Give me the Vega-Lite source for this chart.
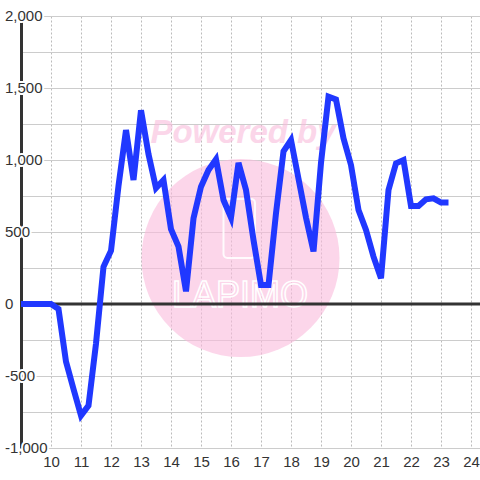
{
  "$schema": "https://vega.github.io/schema/vega-lite/v6.json",
  "width": 459,
  "height": 432,
  "autosize": "none",
  "padding": {"left": 21, "top": 16, "right": 0, "bottom": 32},
  "background": "white",
  "config": {"view": {"stroke": null}, "font": "Liberation Sans"},
  "resolve": {"axis": {"x": "independent", "y": "independent"}},
  "datasets": {
    "series": [
      {"t": 9.0, "v": 0}, {"t": 9.25, "v": 0}, {"t": 9.5, "v": 0}, {"t": 9.75, "v": 0},
      {"t": 10.0, "v": 0}, {"t": 10.25, "v": -35}, {"t": 10.5, "v": -400}, {"t": 10.75, "v": -590},
      {"t": 11.0, "v": -775}, {"t": 11.25, "v": -705}, {"t": 11.5, "v": -275}, {"t": 11.75, "v": 259},
      {"t": 12.0, "v": 370}, {"t": 12.25, "v": 820}, {"t": 12.5, "v": 1208}, {"t": 12.75, "v": 861},
      {"t": 13.0, "v": 1345}, {"t": 13.25, "v": 1040}, {"t": 13.5, "v": 805}, {"t": 13.75, "v": 861},
      {"t": 14.0, "v": 520}, {"t": 14.25, "v": 398}, {"t": 14.5, "v": 88}, {"t": 14.75, "v": 595},
      {"t": 15.0, "v": 815}, {"t": 15.25, "v": 930}, {"t": 15.5, "v": 1005}, {"t": 15.75, "v": 722},
      {"t": 16.0, "v": 600}, {"t": 16.25, "v": 980}, {"t": 16.5, "v": 792}, {"t": 16.75, "v": 444},
      {"t": 17.0, "v": 132}, {"t": 17.25, "v": 132}, {"t": 17.5, "v": 630}, {"t": 17.75, "v": 1060},
      {"t": 18.0, "v": 1139}, {"t": 18.25, "v": 870}, {"t": 18.5, "v": 600}, {"t": 18.75, "v": 365},
      {"t": 19.0, "v": 980}, {"t": 19.25, "v": 1440}, {"t": 19.5, "v": 1420}, {"t": 19.75, "v": 1150},
      {"t": 20.0, "v": 965}, {"t": 20.25, "v": 653}, {"t": 20.5, "v": 514}, {"t": 20.75, "v": 329},
      {"t": 21.0, "v": 178}, {"t": 21.25, "v": 792}, {"t": 21.5, "v": 977}, {"t": 21.75, "v": 1000},
      {"t": 22.0, "v": 680}, {"t": 22.25, "v": 680}, {"t": 22.5, "v": 727}, {"t": 22.75, "v": 734},
      {"t": 23.0, "v": 704}, {"t": 23.25, "v": 704}
    ],
    "ylabels": [
      {"v": 2000, "label": "2,000"}, {"v": 1500, "label": "1,500"}, {"v": 1000, "label": "1,000"},
      {"v": 500, "label": "500"}, {"v": 0, "label": "0"}, {"v": -500, "label": "-500"},
      {"v": -1000, "label": "-1,000"}
    ]
  },
  "layer": [
    {
      "data": {"name": "series"},
      "mark": {"type": "line", "opacity": 0},
      "encoding": {
        "x": {
          "field": "t", "type": "quantitative", "title": null,
          "scale": {"domain": [9, 24.3], "nice": false, "zero": false},
          "axis": {
            "values": [10, 11, 12, 13, 14, 15, 16, 17, 18, 19, 20, 21, 22, 23, 24],
            "title": null, "orient": "bottom", "domain": false, "ticks": false, "tickSize": 0,
            "labelPadding": 6, "labelFontSize": 15, "labelColor": "#333", "labelFont": "Liberation Sans",
            "labelFlush": false, "labelOverlap": false,
            "grid": true, "gridDash": [2, 2], "gridColor": "#bbbbbb", "gridWidth": 1
          }
        },
        "y": {
          "field": "v", "type": "quantitative", "title": null,
          "scale": {"domain": [-1000, 2000], "nice": false, "zero": false},
          "axis": {
            "values": [-1000, -750, -500, -250, 0, 250, 500, 750, 1000, 1250, 1500, 1750, 2000],
            "title": null, "orient": "left", "labels": false, "ticks": false, "tickSize": 0,
            "domain": true, "domainColor": "#333333", "domainWidth": 3,
            "grid": true, "gridColor": "#cccccc", "gridWidth": 1
          }
        }
      }
    },
    {
      "data": {"values": [{}]},
      "mark": {"type": "circle", "size": 39204, "color": "#fabbdc", "opacity": 0.6},
      "encoding": {
        "x": {"datum": 16.317, "type": "quantitative", "axis": null},
        "y": {"datum": 319, "type": "quantitative", "axis": null}
      }
    },
    {
      "data": {"values": [{}]},
      "mark": {"type": "rect", "fill": null, "fillOpacity": 0, "stroke": "white", "strokeWidth": 2, "cornerRadius": 4, "opacity": 0.9},
      "encoding": {
        "x": {"datum": 15.75, "type": "quantitative", "axis": null},
        "x2": {"datum": 16.8},
        "y": {"datum": 730, "type": "quantitative", "axis": null},
        "y2": {"datum": 320}
      }
    },
    {
      "data": {"values": [{"w": "LAPIMO"}]},
      "mark": {"type": "text", "align": "center", "baseline": "alphabetic", "fontSize": 36, "font": "Liberation Sans", "fill": null, "fillOpacity": 0, "stroke": "white", "strokeWidth": 1.5},
      "encoding": {
        "x": {"datum": 16.3, "type": "quantitative", "axis": null},
        "y": {"datum": -21, "type": "quantitative", "axis": null},
        "text": {"field": "w"}
      }
    },
    {
      "data": {"values": [{"w": "Powered by"}]},
      "mark": {"type": "text", "align": "center", "baseline": "alphabetic", "fontSize": 33, "fontWeight": "bold", "fontStyle": "italic", "font": "Liberation Sans", "fill": "#fabbdc", "opacity": 0.6},
      "encoding": {
        "x": {"datum": 16.4, "type": "quantitative", "axis": null},
        "y": {"datum": 1118, "type": "quantitative", "axis": null},
        "text": {"field": "w"}
      }
    },
    {
      "data": {"values": [{}]},
      "mark": {"type": "rule", "color": "#333333", "strokeWidth": 3},
      "encoding": {
        "y": {"datum": 0, "type": "quantitative", "axis": null}
      }
    },
    {
      "data": {"name": "series"},
      "mark": {"type": "line", "color": "#2038ff", "strokeWidth": 6},
      "encoding": {
        "x": {"field": "t", "type": "quantitative", "axis": null},
        "y": {"field": "v", "type": "quantitative", "axis": null}
      }
    },
    {
      "data": {"name": "ylabels"},
      "mark": {"type": "text", "align": "left", "baseline": "middle", "dx": -16, "fontSize": 15, "font": "Liberation Sans", "fill": "white", "stroke": "white", "strokeWidth": 4},
      "encoding": {
        "x": {"datum": 9, "type": "quantitative", "axis": null},
        "y": {"field": "v", "type": "quantitative", "axis": null},
        "text": {"field": "label"}
      }
    },
    {
      "data": {"name": "ylabels"},
      "mark": {"type": "text", "align": "left", "baseline": "middle", "dx": -16, "fontSize": 15, "font": "Liberation Sans", "fill": "#333333"},
      "encoding": {
        "x": {"datum": 9, "type": "quantitative", "axis": null},
        "y": {"field": "v", "type": "quantitative", "axis": null},
        "text": {"field": "label"}
      }
    }
  ]
}
